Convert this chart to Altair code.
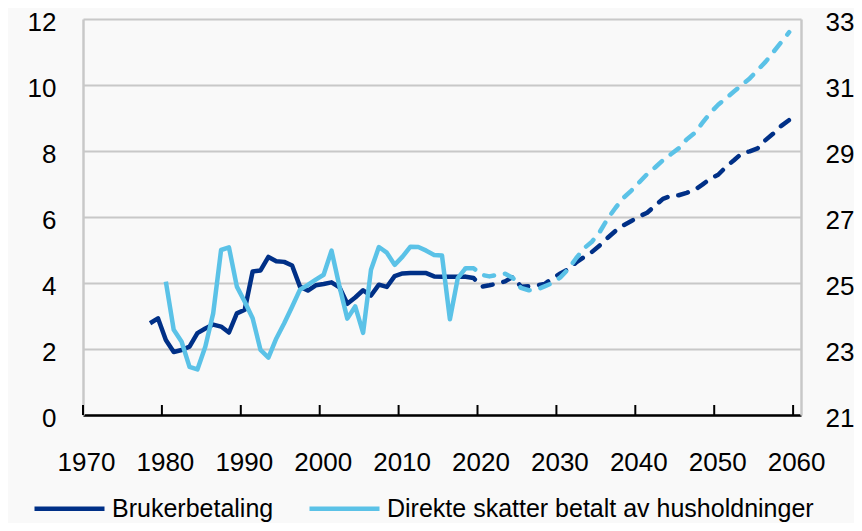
import altair as alt
import pandas as pd

# ---------------- data ----------------
S_DARK = "Brukerbetaling"
S_LIGHT = "Direkte skatter betalt av husholdninger"

dark_hist_years = list(range(1978, 2019))
dark_hist = [2.78, 2.93, 2.27, 1.91, 1.97, 2.07, 2.48, 2.62, 2.74, 2.68,
             2.50, 3.08, 3.19, 4.35, 4.38, 4.79, 4.66, 4.64, 4.53, 3.89,
             3.77, 3.93, 3.97, 4.02, 3.87, 3.37, 3.56, 3.78, 3.62, 3.95,
             3.88, 4.21, 4.29, 4.30, 4.30, 4.30, 4.20, 4.19, 4.19, 4.19,
             4.19]

dark_proj_years = list(range(2018, 2061))
dark_proj = [4.19, 4.15, 3.89, 3.93, 3.98, 4.05, 4.19, 3.89, 3.90, 3.93,
             3.97, 4.14, 4.29, 4.42, 4.62, 4.79, 4.94, 5.14, 5.37, 5.58,
             5.75, 5.88, 6.02, 6.13, 6.34, 6.55, 6.64, 6.66, 6.73, 6.82,
             6.98, 7.16, 7.28, 7.52, 7.72, 7.93, 7.99, 8.08, 8.33, 8.53,
             8.76, 8.94, 9.09]

light_hist_years = list(range(1980, 2019))
light_hist = [25.04, 23.58, 23.22, 22.46, 22.38, 23.07, 24.08, 26.00, 26.08, 24.89,
              24.43, 23.93, 22.97, 22.74, 23.32, 23.78, 24.28, 24.80, 24.94, 25.10,
              25.25, 25.98, 24.90, 23.92, 24.29, 23.49, 25.40, 26.09, 25.92, 25.55,
              25.80, 26.10, 26.09, 25.98, 25.85, 25.83, 23.90, 25.15, 25.45]

light_proj_years = list(range(2018, 2060))
light_proj = [25.45, 25.45, 25.25, 25.20, 25.25, 25.28, 25.15, 24.85, 24.78, 24.80,
              24.90, 25.00, 25.17, 25.42, 25.75, 26.05, 26.25, 26.55, 26.95, 27.28,
              27.58, 27.80, 28.05, 28.30, 28.50, 28.72, 28.90, 29.08, 29.35, 29.54,
              29.85, 30.15, 30.40, 30.60, 30.80, 31.00, 31.20, 31.45, 31.70, 32.00,
              32.30, 32.60]

x_ticks = [1970, 1980, 1990, 2000, 2010, 2020, 2030, 2040, 2050, 2060]
left_ticks = [0, 2, 4, 6, 8, 10, 12]
right_ticks = [21, 23, 25, 27, 29, 31, 33]

DARK = "#003087"
LIGHT = "#5BC2E7"
FONT = "Liberation Sans"

W, H = 718, 396

def frame(years, vals, series):
    return pd.DataFrame({"year": years, "value": vals, "series": series})

color = alt.Color(
    "series:N",
    scale=alt.Scale(domain=[S_DARK, S_LIGHT], range=[DARK, LIGHT]),
    legend=alt.Legend(
        title=None, orient="none", legendX=-51, legendY=452,
        direction="horizontal", symbolType="stroke", symbolSize=4900,
        symbolStrokeWidth=4.5, labelFontSize=25, labelFont=FONT,
        labelColor="black", labelOffset=5, columnPadding=26, padding=0,
        labelLimit=600,
    ),
)

x_scale = alt.Scale(domain=[1970, 2061], nice=False, zero=False)
x_enc = alt.X(
    "xpos:Q", scale=x_scale,
    axis=alt.Axis(values=x_ticks, format="d", title=None, tickSize=0,
                  labelPadding=34, labelFontSize=26, labelFont=FONT,
                  labelColor="black", domainColor="black", domainWidth=2.5,
                  grid=False, labelFlush=False, labelOffset=3),
)

left_y = alt.Y(
    "value:Q", scale=alt.Scale(domain=[0, 12], nice=False, zero=False),
    axis=alt.Axis(values=left_ticks, orient="left", title=None, tickSize=0,
                  grid=True, gridColor="#C8C8C8", gridWidth=2,
                  domainColor="#C8C8C8", domainWidth=2.5,
                  labelFontSize=26, labelFont=FONT, labelColor="black",
                  labelPadding=27, labelOffset=3),
)
right_y = alt.Y(
    "value:Q", scale=alt.Scale(domain=[21, 33], nice=False, zero=False),
    axis=alt.Axis(values=right_ticks, orient="right", title=None, tickSize=0,
                  grid=False, domainColor="#C8C8C8", domainWidth=2.5,
                  labelFontSize=26, labelFont=FONT, labelColor="black",
                  labelPadding=24, labelOffset=3),
)

def line(df, y, dashed):
    kw = dict(strokeWidth=4.5, strokeJoin="round")
    if dashed:
        kw["strokeDash"] = [10, 11]
        kw["strokeCap"] = "round"
    return (alt.Chart(df)
            .transform_calculate(xpos="datum.year + 0.5")
            .mark_line(**kw)
            .encode(x=x_enc, y=y, color=color))

dark = alt.layer(
    line(frame(dark_hist_years, dark_hist, S_DARK), left_y, False),
    line(frame(dark_proj_years, dark_proj, S_DARK), left_y, True),
)
light = alt.layer(
    line(frame(light_hist_years, light_hist, S_LIGHT), right_y, False),
    line(frame(light_proj_years, light_proj, S_LIGHT), right_y, True),
)

ticks = (alt.Chart(pd.DataFrame({"year": x_ticks}))
         .transform_calculate(xpos="datum.year")
         .mark_rule(color="black", strokeWidth=2)
         .encode(x=x_enc, y=alt.value(H - 10), y2=alt.value(H)))

chart = alt.layer(dark, light, ticks).resolve_scale(y="independent").properties(
    width=W, height=H,
    autosize=alt.AutoSizeParams(type="none"),
    padding={"left": 75, "top": 11, "right": 53, "bottom": 108},
    background="#F9F9F9",
).configure_view(stroke=None)

chart.save("out.html", embed_options={"renderer": "svg", "actions": False})
